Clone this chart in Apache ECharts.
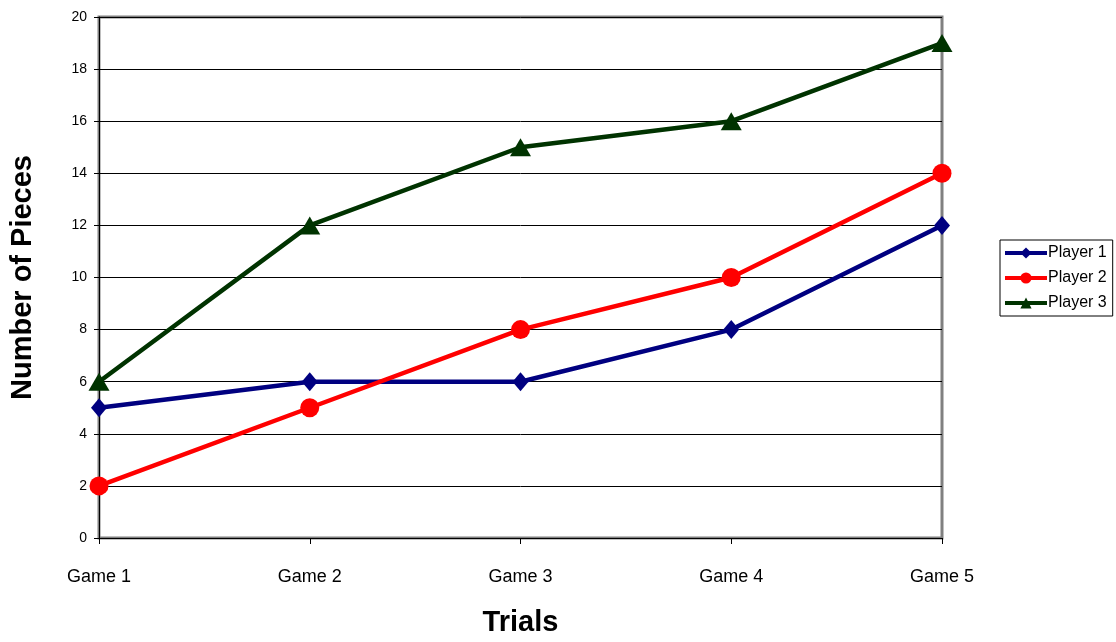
<!DOCTYPE html>
<html><head><meta charset="utf-8">
<script src="https://cdn.jsdelivr.net/npm/echarts@6/dist/echarts.min.js"></script>
<style>html,body{margin:0;padding:0;background:#fff}#c{width:1116px;height:642px}</style>
</head><body><div id="c"></div>
<script>
const categories = ['Game 1','Game 2','Game 3','Game 4','Game 5'];
const player1 = [5,6,6,8,12];
const player2 = [2,5,8,10,14];
const player3 = [6,12,15,16,19];
const seriesNames = ['Player 1','Player 2','Player 3'];
const font = 'Liberation Sans, Arial, sans-serif';
const chart = echarts.init(document.getElementById('c'));
chart.setOption({
  animation:false,
  backgroundColor:'#fff',
  grid:{left:98,right:174,top:17,bottom:102,show:true,borderColor:'#808080',borderWidth:3,backgroundColor:'#fff'},
  legend:{
    orient:'vertical',left:1000,top:240,
    itemWidth:42,itemHeight:14,itemGap:9,
    padding:[5,6,5,3],
    borderColor:'#000',borderWidth:1,
    lineStyle:{width:4},
    textStyle:{fontFamily:font,fontSize:16,color:'#000',padding:[0,0,0,-4]},
    data:seriesNames
  },
  xAxis:{
    type:'category',data:categories,boundaryGap:false,
    name:'Trials',nameLocation:'middle',nameGap:70,
    nameTextStyle:{fontFamily:font,fontSize:29,fontWeight:'bold',color:'#000'},
    axisLine:{lineStyle:{color:'#000',width:1}},
    axisTick:{show:true,length:6,lineStyle:{color:'#000'},alignWithLabel:true},
    axisLabel:{fontFamily:font,fontSize:18,color:'#000',margin:30},
    splitLine:{show:false}
  },
  yAxis:{
    type:'value',min:0,max:20,interval:2,
    name:'Number of Pieces',nameLocation:'middle',nameGap:62,
    nameTextStyle:{fontFamily:font,fontSize:29,fontWeight:'bold',color:'#000'},
    axisLine:{show:true,lineStyle:{color:'#000',width:1}},
    axisTick:{show:true,length:5,lineStyle:{color:'#000'}},
    axisLabel:{fontFamily:font,fontSize:14,color:'#000',margin:12},
    splitLine:{show:true,lineStyle:{color:'#000',width:1}}
  },
  series:[
    {name:seriesNames[0],type:'line',data:player1,symbol:'diamond',symbolSize:[16,19],
     lineStyle:{color:'#000080',width:4.5},itemStyle:{color:'#000080'}},
    {name:seriesNames[1],type:'line',data:player2,symbol:'circle',symbolSize:19,
     lineStyle:{color:'#ff0000',width:4.5},itemStyle:{color:'#ff0000'}},
    {name:seriesNames[2],type:'line',data:player3,symbol:'triangle',symbolSize:[21,18],
     lineStyle:{color:'#003300',width:4.5},itemStyle:{color:'#003300'}}
  ]
});
</script></body></html>
